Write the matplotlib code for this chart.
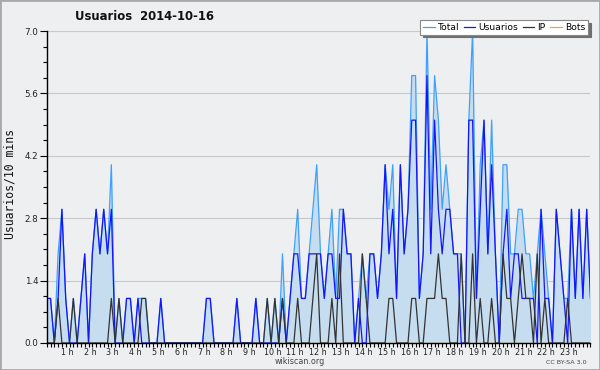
import matplotlib
matplotlib.use("Agg")
import matplotlib.pyplot as plt
import matplotlib.transforms as mtrans
from matplotlib.patches import Rectangle
from matplotlib.ticker import MultipleLocator, FixedLocator

plt.rcParams['font.family'] = ['DejaVu Sans']

title = "Usuarios  2014-10-16"
ylabel = "Usuarios/10 mins"
hour_labels = [f"{h} h" for h in range(1, 24)]
series_names = ["Total", "Usuarios", "IP", "Bots"]

usuarios = [1, 1, 0, 1, 3, 1, 0, 0, 0, 1, 2, 0, 2, 3, 2, 3, 2, 3, 0, 0,
            0, 1, 1, 0, 1, 0, 0, 0, 0, 0, 1, 0, 0, 0, 0, 0, 0, 0, 0, 0,
            0, 0, 1, 1, 0, 0, 0, 0, 0, 0, 1, 0, 0, 0, 0, 1, 0, 0, 0, 0,
            0, 0, 1, 0, 1, 2, 2, 1, 1, 2, 2, 2, 2, 1, 2, 2, 1, 1, 3, 2,
            2, 0, 1, 0, 0, 2, 2, 1, 2, 4, 2, 3, 1, 4, 2, 3, 5, 5, 1, 2,
            6, 2, 5, 3, 2, 3, 3, 2, 2, 0, 0, 5, 5, 1, 3, 5, 2, 4, 2, 0,
            2, 3, 1, 2, 2, 1, 1, 1, 1, 0, 3, 1, 1, 0, 3, 2, 1, 0, 3, 1,
            3, 1, 3, 1]
ip = [0, 0, 0, 1, 0, 0, 0, 1, 0, 0, 0, 0, 0, 0, 0, 0, 0, 1, 0, 1,
      0, 0, 0, 0, 0, 1, 1, 0, 0, 0, 0, 0, 0, 0, 0, 0, 0, 0, 0, 0,
      0, 0, 0, 0, 0, 0, 0, 0, 0, 0, 0, 0, 0, 0, 0, 0, 0, 0, 1, 0,
      1, 0, 1, 0, 0, 0, 1, 0, 0, 0, 1, 2, 0, 0, 0, 1, 0, 2, 0, 0,
      0, 0, 0, 2, 1, 0, 0, 0, 0, 0, 1, 1, 0, 0, 0, 0, 1, 1, 0, 0,
      1, 1, 1, 2, 1, 1, 0, 0, 0, 2, 0, 0, 2, 0, 1, 0, 0, 1, 0, 0,
      2, 1, 1, 0, 1, 2, 1, 1, 0, 2, 0, 1, 0, 0, 0, 0, 0, 1, 0, 0,
      0, 0, 0, 0]
total = [1, 1, 0, 2, 3, 1, 0, 1, 0, 1, 2, 0, 2, 3, 2, 3, 2, 4, 0, 1,
         0, 1, 1, 0, 1, 1, 1, 0, 0, 0, 1, 0, 0, 0, 0, 0, 0, 0, 0, 0,
         0, 0, 1, 1, 0, 0, 0, 0, 0, 0, 1, 0, 0, 0, 0, 1, 0, 0, 1, 0,
         1, 0, 2, 0, 1, 2, 3, 1, 1, 2, 3, 4, 2, 1, 2, 3, 1, 3, 3, 2,
         2, 0, 1, 2, 1, 2, 2, 1, 2, 4, 3, 4, 1, 4, 2, 3, 6, 6, 1, 2,
         7, 3, 6, 5, 3, 4, 3, 2, 2, 2, 0, 5, 7, 1, 4, 5, 2, 5, 2, 0,
         4, 4, 2, 2, 3, 3, 2, 2, 1, 2, 3, 2, 1, 0, 3, 2, 1, 1, 3, 1,
         3, 1, 3, 1]
bots = [0] * 144

x = list(range(len(total)))

W, H = 600, 370
fig = plt.figure(figsize=(W / 100, H / 100), dpi=100)
bg = "#eeeff0"
fig.patch.set_facecolor(bg)

left_px, right_px, top_px, bot_px = 46.7, 590.5, 31, 343
ax = fig.add_axes([left_px / W, (H - bot_px) / H, (right_px - left_px) / W, (bot_px - top_px) / H])
ax.set_facecolor(bg)

c_total = "#3ea0ff"
c_fill = "#c6ddf0"
c_users = "#1414ff"
c_ip = "#333333"
c_bots = "#ffa020"

ax.plot(x, bots, color=c_bots, lw=0.9, zorder=1.5)
ax.fill_between(x, 0, total, color=c_fill, lw=0, zorder=1)
ax.plot(x, total, color=c_total, lw=0.9, zorder=2, label=series_names[0])
ax.plot(x, usuarios, color=c_users, lw=0.9, zorder=3, label=series_names[1])
ax.plot(x, ip, color=c_ip, lw=0.9, zorder=4, label=series_names[2])
ax.plot([], [], color=c_bots, lw=0.9, label=series_names[3])

ax.set_xlim(0, 143)
ax.set_ylim(0, 7.0)

ax.yaxis.set_major_locator(MultipleLocator(1.4))
ax.yaxis.set_minor_locator(MultipleLocator(0.35))
ax.yaxis.set_major_formatter(matplotlib.ticker.FormatStrFormatter('%.1f'))
ax.grid(axis='y', which='major', color='#c8c8c8', lw=0.8, zorder=0)
ax.set_axisbelow(True)

ax.xaxis.set_major_locator(FixedLocator([6 * h for h in range(1, 24)]))
ax.set_xticklabels(hour_labels)
ax.xaxis.set_minor_locator(MultipleLocator(1))

for s in ['top', 'right']:
    ax.spines[s].set_visible(False)
for s in ['left', 'bottom']:
    ax.spines[s].set_color('#000000')
    ax.spines[s].set_linewidth(1.0)
    ax.spines[s].set_zorder(5)

ax.tick_params(axis='y', which='major', length=5, width=0.8, labelsize=6.3, pad=1, colors='#000000', labelcolor='#222222')
ax.tick_params(axis='y', which='minor', length=3, width=0.8, colors='#000000')
ax.tick_params(axis='x', which='major', length=3, width=0.8, labelsize=5.8, pad=0.5, colors='#000000', labelcolor='#222222')
ax.tick_params(axis='x', which='minor', length=3, width=0.8, colors='#000000')

off = mtrans.ScaledTranslation(-2.5 / 100, 0, fig.dpi_scale_trans)
for lab in ax.get_xticklabels():
    lab.set_transform(lab.get_transform() + off)

fig.text(10 / W, 1 - 184 / H, ylabel, rotation=90, ha='center', va='center', fontsize=8.3,
         color='#111111', family='DejaVu Sans Mono')
fig.text(75 / W, 1 - 17 / H, title, ha='left', va='center', fontsize=8.4, fontweight='bold', color='#111111')
fig.text(300 / W, 1 - 362 / H, "wikiscan.org", ha='center', va='center', fontsize=5.8, color='#444444')
fig.text(566 / W, 1 - 362 / H, "CC BY-SA 3.0", ha='center', va='center', fontsize=4.6, color='#444444')

leg = fig.legend(loc='upper right', bbox_to_anchor=(588 / W, 1 - 20 / H), ncol=4, fontsize=6.6,
                 frameon=True, fancybox=False, shadow={'color': '#707070', 'alpha': 1.0},
                 handlelength=1.3, handletextpad=0.35, columnspacing=0.45, borderpad=0.3,
                 borderaxespad=0)
leg.get_frame().set_facecolor('white')
leg.get_frame().set_edgecolor('#888888')
leg.get_frame().set_linewidth(0.8)

fig.add_artist(Rectangle((0, 0), 1, 1, transform=fig.transFigure, fill=False,
                         edgecolor='#a8a8a8', lw=2.0))

fig.savefig("out.png", dpi=100, facecolor=bg)
